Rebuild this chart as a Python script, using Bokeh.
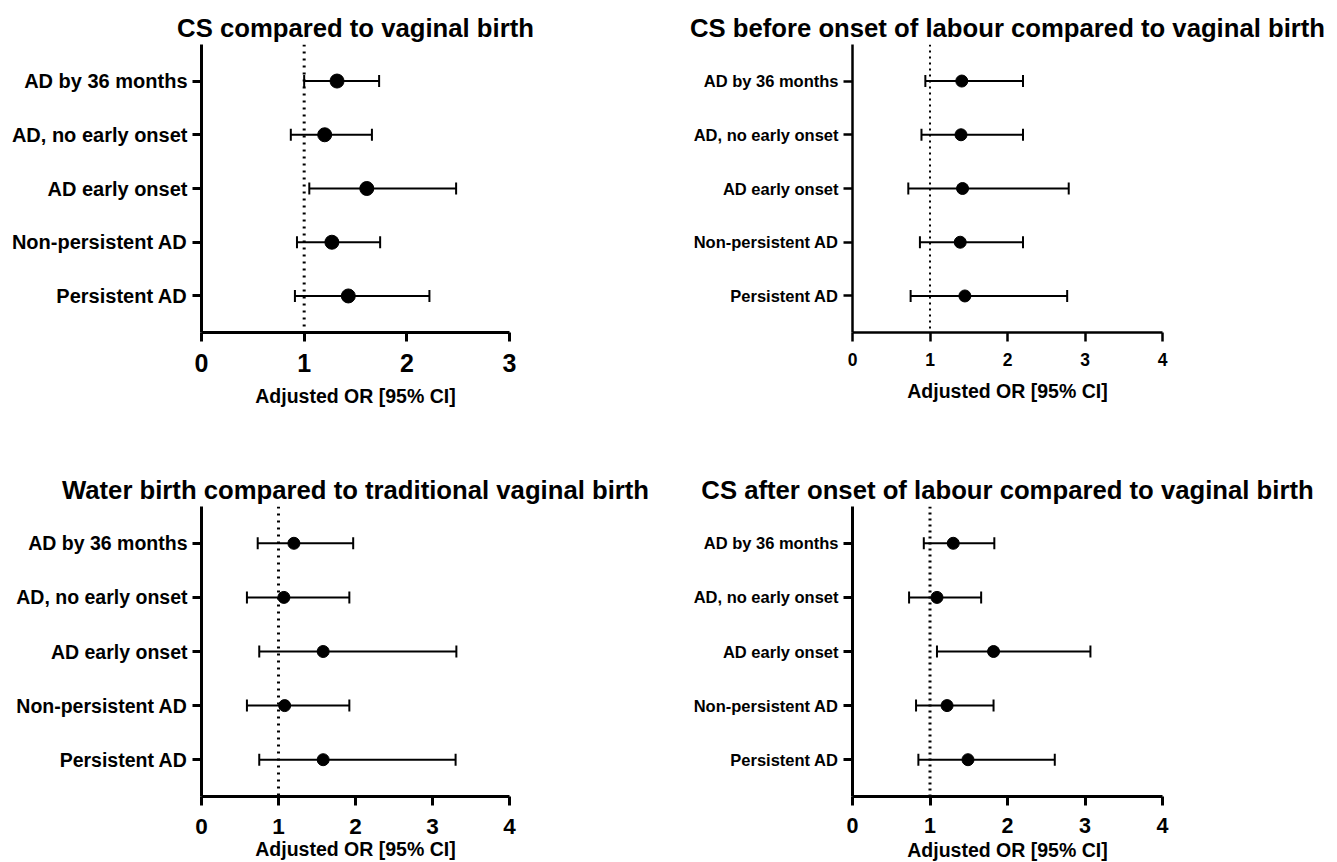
from bokeh.plotting import figure
from bokeh.models import (Range1d, FactorRange, FixedTicker, Span, Whisker,
                          ColumnDataSource, TeeHead)
from bokeh.layouts import gridplot
from bokeh.embed import file_html
from bokeh.resources import INLINE

outcomes = ["AD by 36 months", "AD, no early onset", "AD early onset",
            "Non-persistent AD", "Persistent AD"]

titles = ["CS compared to vaginal birth",
          "CS before onset of labour compared to vaginal birth",
          "Water birth compared to traditional vaginal birth",
          "CS after onset of labour compared to vaginal birth"]

x_label = "Adjusted OR [95% CI]"

# CS vs vaginal birth
cs_or = [1.32, 1.20, 1.61, 1.27, 1.43]
cs_lo = [1.00, 0.87, 1.05, 0.93, 0.91]
cs_hi = [1.73, 1.66, 2.48, 1.74, 2.22]

# CS before onset of labour
csb_or = [1.41, 1.40, 1.42, 1.39, 1.45]
csb_lo = [0.94, 0.89, 0.72, 0.87, 0.75]
csb_hi = [2.20, 2.20, 2.79, 2.20, 2.77]

# Water birth vs traditional vaginal birth
wb_or = [1.20, 1.07, 1.58, 1.08, 1.58]
wb_lo = [0.73, 0.59, 0.75, 0.59, 0.75]
wb_hi = [1.97, 1.92, 3.31, 1.92, 3.30]

# CS after onset of labour
csa_or = [1.30, 1.09, 1.82, 1.22, 1.49]
csa_lo = [0.92, 0.73, 1.09, 0.82, 0.85]
csa_hi = [1.83, 1.66, 3.07, 1.82, 2.61]

FONT = "Liberation Sans"


def panel(title, est, lo, hi, xmax, width, height, bl, br, bt, bb,
          ylab_size, xtick_size, marker, dot_w, dot_dash, axis_w,
          tick_standoff, label_standoff):
    src = ColumnDataSource(dict(cat=outcomes, est=est, lo=lo, hi=hi))
    p = figure(width=width, height=height,
               y_range=FactorRange(factors=outcomes[::-1], range_padding=0.18,
                                   range_padding_units="absolute"),
               x_range=Range1d(0, xmax),
               output_backend="svg", toolbar_location=None,
               min_border_left=bl, min_border_right=br,
               min_border_top=bt, min_border_bottom=bb)
    p.title.text = title
    p.title.align = "center"
    p.title.text_font = FONT
    p.title.text_font_style = "bold"
    p.title.text_font_size = "25.7px"
    p.title.text_color = "black"
    p.title.standoff = 6

    p.add_layout(Span(location=1, dimension="height", line_color="black",
                      line_width=dot_w, line_dash=dot_dash, level="underlay"))

    p.add_layout(Whisker(source=src, base="cat", lower="lo", upper="hi",
                         dimension="width", line_width=2, line_color="black",
                         upper_head=TeeHead(size=12, line_width=2),
                         lower_head=TeeHead(size=12, line_width=2)))
    p.scatter(x="est", y="cat", source=src, size=marker, color="black")

    p.grid.visible = False
    p.outline_line_color = None
    p.background_fill_color = "white"
    p.border_fill_color = "white"

    p.xaxis.ticker = FixedTicker(ticks=list(range(xmax + 1)))
    p.xaxis.axis_label = x_label
    p.xaxis.axis_label_text_font = FONT
    p.xaxis.axis_label_text_font_style = "bold"
    p.xaxis.axis_label_text_font_size = "19.5px"
    p.xaxis.axis_label_text_color = "black"
    p.xaxis.axis_label_standoff = label_standoff
    p.xaxis.major_label_text_font_size = xtick_size
    p.xaxis.major_label_standoff = tick_standoff

    for ax in (p.xaxis, p.yaxis):
        ax.axis_line_width = axis_w
        ax.axis_line_color = "black"
        ax.major_tick_line_width = axis_w
        ax.major_tick_line_color = "black"
        ax.major_tick_in = 0
        ax.major_tick_out = 9
        ax.minor_tick_line_color = None
        ax.major_label_text_font = FONT
        ax.major_label_text_font_style = "bold"
        ax.major_label_text_color = "black"

    p.yaxis.major_label_text_font_size = ylab_size
    p.yaxis.major_label_standoff = 5
    return p


p1 = panel(titles[0], cs_or, cs_lo, cs_hi, 3, 660, 452, 200, 151, 44, 120,
           "20px", "25px", 14, 3, "2 5", 3, 12, 10)
p2 = panel(titles[1], csb_or, csb_lo, csb_hi, 4, 670, 452, 192, 168, 44, 120,
           "16.5px", "17.5px", 12, 2, "2 4", 2.5, 11, 11)
p3 = panel(titles[2], wb_or, wb_lo, wb_hi, 4, 660, 414, 201, 150, 54, 70,
           "19.5px", "22.5px", 12, 3, "2 5", 3, 13, 1)
p4 = panel(titles[3], csa_or, csa_lo, csa_hi, 4, 670, 414, 192, 168, 54, 70,
           "16.5px", "21.5px", 12, 3, "2 4", 3, 12, 3)

grid = gridplot([[p1, p2], [p3, p4]], toolbar_location=None)

open("out.html", "w").write(file_html(grid, INLINE))
